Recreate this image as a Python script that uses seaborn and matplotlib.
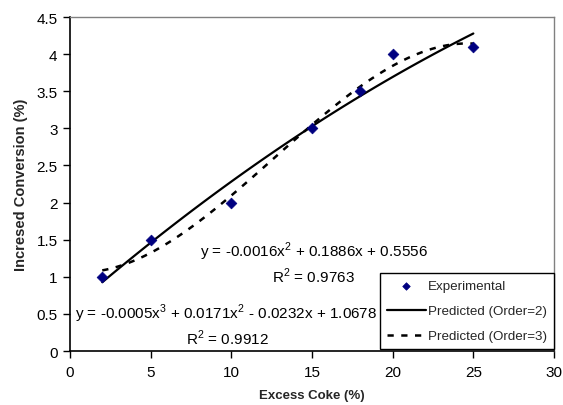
import numpy as np
import pandas as pd
import matplotlib
matplotlib.use("Agg")
import matplotlib.pyplot as plt
import seaborn as sns

# Data
excess_coke = [2, 5, 10, 15, 18, 20, 25]
conversion = [1.0, 1.5, 2.0, 3.0, 3.5, 4.0, 4.1]
x_ticks = [0, 5, 10, 15, 20, 25, 30]
y_ticks = [0, 0.5, 1, 1.5, 2, 2.5, 3, 3.5, 4, 4.5]
eq2_text = "y = -0.0016x$^2$ + 0.1886x + 0.5556"
r2_2_text = "R$^2$ = 0.9763"
eq3_text = "y = -0.0005x$^3$ + 0.0171x$^2$ - 0.0232x + 1.0678"
r2_3_text = "R$^2$ = 0.9912"

df = pd.DataFrame({"x": excess_coke, "y": conversion})

sns.set_theme(style="white")
plt.rcParams["font.family"] = ["Liberation Sans", "DejaVu Sans"]
plt.rcParams["mathtext.fontset"] = "custom"
plt.rcParams["mathtext.rm"] = "Liberation Sans"

fig = plt.figure(figsize=(5.63, 4.06), dpi=100)
ax = fig.add_axes([70 / 563, 1 - 352 / 406, 484 / 563, 334 / 406])

sns.regplot(data=df, x="x", y="y", order=2, ci=None, scatter=False, ax=ax,
            label="Predicted (Order=2)",
            line_kws=dict(color="black", lw=1.6, ls="-"))
sns.regplot(data=df, x="x", y="y", order=3, ci=None, scatter=False, ax=ax,
            label="Predicted (Order=3)",
            line_kws=dict(color="black", lw=1.8, ls=(0, (2.5, 3))))
sns.scatterplot(data=df, x="x", y="y", marker="D", color="#000080", s=30,
                edgecolor="#000080", linewidth=0.5, ax=ax, label="Experimental", zorder=5)

ax.set_xlim(0, 30)
ax.set_ylim(0, 4.5)
ax.set_xticks(x_ticks)
ax.set_yticks(y_ticks)
ax.set_xticklabels([str(t) for t in x_ticks], fontsize=11)
ax.set_yticklabels([f"{t:g}" for t in y_ticks], fontsize=11)
ax.tick_params(axis="x", direction="out", length=5, width=1, color="black",
               bottom=True, pad=5, labelcolor="black")
ax.tick_params(axis="y", direction="out", length=5, width=1, color="black",
               left=True, pad=4, labelcolor="black")
ax.set_xlabel("Excess Coke (%)", fontsize=9.5, fontweight="bold", labelpad=7)
ax.set_ylabel("Incresed Conversion (%)", fontsize=10.5, fontweight="bold", labelpad=6)

for s in ["left", "bottom"]:
    ax.spines[s].set_color("black")
    ax.spines[s].set_linewidth(1.2)
for s in ["top", "right"]:
    ax.spines[s].set_color("#808080")
    ax.spines[s].set_linewidth(1.0)

ax.text(15.1, 1.35, eq2_text, fontsize=11, ha="center", va="center", color="black")
ax.text(15.1, 1.02, r2_2_text, fontsize=11, ha="center", va="center", color="black")
ax.text(9.7, 0.52, eq3_text, fontsize=11, ha="center", va="center", color="black")
ax.text(9.75, 0.18, r2_3_text, fontsize=11, ha="center", va="center", color="black")

handles, labels = ax.get_legend_handles_labels()
wanted = ["Experimental", "Predicted (Order=2)", "Predicted (Order=3)"]
order = [labels.index(w) for w in wanted if w in labels]
leg = ax.legend([handles[i] for i in order], [labels[i] for i in order],
                loc="lower right", bbox_to_anchor=(0.999, 0.006), borderaxespad=0,
                fontsize=9.6, frameon=True, fancybox=False, framealpha=1,
                edgecolor="black", handlelength=2.9, handletextpad=0.15,
                labelspacing=0.95, borderpad=0.5, markerscale=0.7)
leg.get_frame().set_linewidth(1.0)

fig.savefig("out.png", dpi=100)
